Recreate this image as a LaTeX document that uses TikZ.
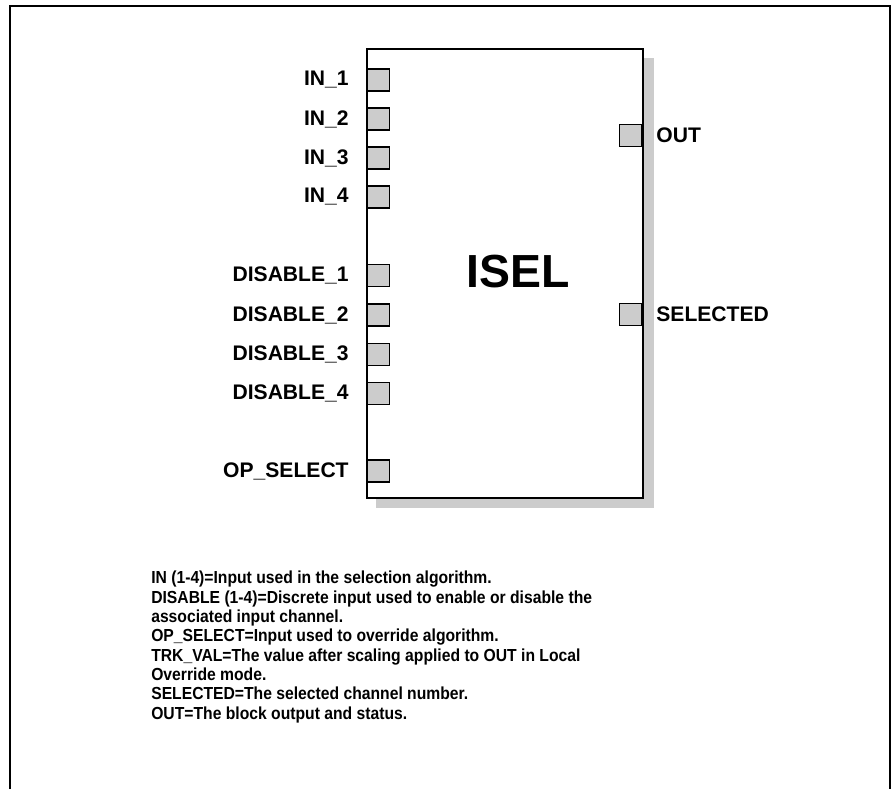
\documentclass[tikz,border=0pt]{standalone}
\usepackage{fontspec}
\setmainfont{Liberation Sans}
\usetikzlibrary{positioning}

\begin{document}
\begin{tikzpicture}[
    x=0.025cm,y=-0.025cm,
    font=\bfseries,
    frame/.style={line width=1.42pt},
    block/.style={draw,line width=1.5pt,fill=white,minimum width=6.9cm,minimum height=11.225cm,inner sep=0pt},
    shade/.style={fill=black!20},
    port/.style={draw,line width=1.4pt,fill=black!20,minimum width=0.55cm,minimum height=0.55cm,inner sep=0pt},
    lbl/.style={font=\fontsize{15}{17}\selectfont\bfseries,inner sep=0pt},
    title/.style={font=\fontsize{33}{36}\selectfont\bfseries,inner sep=0pt},
    note/.style={font=\fontsize{12.4}{13.75}\selectfont\bfseries\addfontfeature{FakeStretch=0.9},align=left,inner sep=0pt}
  ]
    \useasboundingbox (0,0) rectangle (892,789);
    \draw[frame] (10,789) -- (10,6) -- (890,6) -- (890,789);

    \fill[shade] (376,58) rectangle (654,508);
    \node[block] (isel) at (505,273.5) {};
    \node[title] (name) at (518,272) {ISEL};

    \node[port] (in1) at (378.5,80) {};
    \node[port] (in2) at (378.5,119) {};
    \node[port] (in3) at (378.5,158) {};
    \node[port] (in4) at (378.5,197) {};
    \node[port] (dis1) at (378.5,275.5) {};
    \node[port] (dis2) at (378.5,315) {};
    \node[port] (dis3) at (378.5,354.5) {};
    \node[port] (dis4) at (378.5,393.5) {};
    \node[port] (opsel) at (378.5,471) {};
    \node[port] (out) at (630.5,135.5) {};
    \node[port] (sel) at (630.5,314.5) {};

    \node[lbl,left=0.44cm of in1] (lin1) {IN\_1};
    \node[lbl,left=0.44cm of in2] (lin2) {IN\_2};
    \node[lbl,left=0.44cm of in3] (lin3) {IN\_3};
    \node[lbl,left=0.44cm of in4] (lin4) {IN\_4};
    \node[lbl,left=0.44cm of dis1] (ldis1) {DISABLE\_1};
    \node[lbl,left=0.44cm of dis2] (ldis2) {DISABLE\_2};
    \node[lbl,left=0.44cm of dis3] (ldis3) {DISABLE\_3};
    \node[lbl,left=0.44cm of dis4] (ldis4) {DISABLE\_4};
    \node[lbl,left=0.44cm of opsel] (lopsel) {OP\_SELECT};
    \node[lbl,right=0.34cm of out] (lout) {OUT};
    \node[lbl,right=0.34cm of sel] (lsel) {SELECTED};

    \node[note,anchor=north west] (legend) at (151,571) {IN (1-4)=Input used in the selection algorithm.\\
      DISABLE (1-4)=Discrete input used to enable or disable the\\
      associated input channel.\\
      OP\_SELECT=Input used to override algorithm.\\
      TRK\_VAL=The value after scaling applied to OUT in Local\\
      Override mode.\\
      SELECTED=The selected channel number.\\
      OUT=The block output and status.};
  \end{tikzpicture}
\end{document}
